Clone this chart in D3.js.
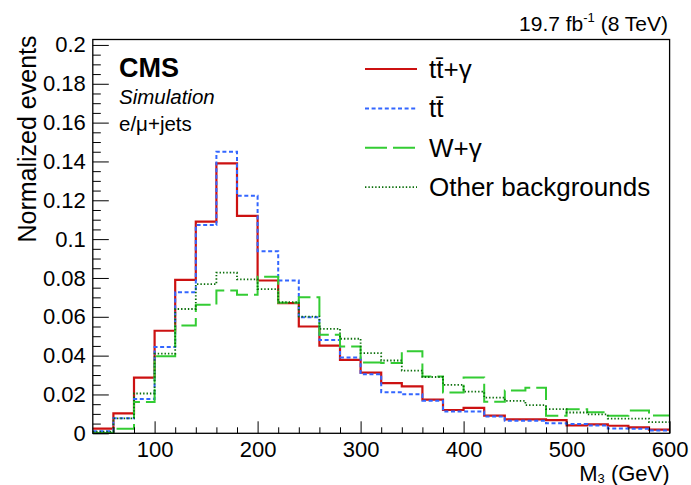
<!DOCTYPE html>
<html>
<head>
<meta charset="utf-8">
<script src="https://cdn.jsdelivr.net/npm/d3@7"></script>
<style>
  html, body { margin: 0; padding: 0; background: #fff; }
  svg { display: block; font-family: "Liberation Sans", Arial, Helvetica, sans-serif; }
</style>
</head>
<body>
<svg id="chart" width="691" height="485"></svg>
<script>
// ---- data ----
const binLow = [40, 60, 80, 100, 120, 140, 160, 180, 200, 220, 240, 260, 280, 300,
                320, 340, 360, 380, 400, 420, 440, 460, 480, 500, 520, 540, 560, 580];
const binWidth = 20;
const ttgamma = [0.0024, 0.0103, 0.0287, 0.0528, 0.079, 0.109, 0.139, 0.112, 0.0787, 0.067,
                 0.055, 0.0452, 0.0378, 0.0312, 0.0258, 0.0242, 0.0173, 0.012, 0.0131, 0.0091,
                 0.0072, 0.0072, 0.0068, 0.0041, 0.0046, 0.0039, 0.0031, 0.0019];
const ttbar = [0.001, 0.0077, 0.0176, 0.0445, 0.0727, 0.1073, 0.145, 0.1223, 0.0938, 0.0787,
               0.0597, 0.0481, 0.039, 0.0304, 0.0212, 0.0201, 0.0167, 0.0112, 0.0112, 0.0086,
               0.0065, 0.0065, 0.0052, 0.0048, 0.004, 0.0025, 0.0023, 0.0014];
const wgamma = [0.0002, 0.0024, 0.0161, 0.0397, 0.0555, 0.0662, 0.0736, 0.0714, 0.0806, 0.0672,
                0.0701, 0.0507, 0.0447, 0.0364, 0.0362, 0.0423, 0.0292, 0.021, 0.0287, 0.0162,
                0.022, 0.0234, 0.009, 0.0124, 0.0108, 0.009, 0.0117, 0.0092];
const otherBkg = [0.0009, 0.0077, 0.0205, 0.041, 0.064, 0.0768, 0.0827, 0.0793, 0.0742, 0.0675,
                  0.0601, 0.0538, 0.0487, 0.0413, 0.0375, 0.0323, 0.029, 0.0249, 0.0215, 0.0184,
                  0.0167, 0.0145, 0.0125, 0.0107, 0.0097, 0.0076, 0.0076, 0.0058];
const seriesNames = ["tt\u0304+\u03b3", "tt\u0304", "W+\u03b3", "Other backgrounds"];
const xMajorTicks = [100, 200, 300, 400, 500, 600];
const xMinorTicks = [60, 80, 120, 140, 160, 180, 220, 240, 260, 280, 320, 340, 360, 380,
                     420, 440, 460, 480, 520, 540, 560, 580];
const yMajorTicks = [0, 0.02, 0.04, 0.06, 0.08, 0.1, 0.12, 0.14, 0.16, 0.18, 0.2];
const yTickLabels = ["0", "0.02", "0.04", "0.06", "0.08", "0.1", "0.12", "0.14", "0.16", "0.18", "0.2"];
const yMinorTicks = [0.005, 0.01, 0.015, 0.025, 0.03, 0.035, 0.045, 0.05, 0.055, 0.065, 0.07, 0.075,
                     0.085, 0.09, 0.095, 0.105, 0.11, 0.115, 0.125, 0.13, 0.135, 0.145, 0.15, 0.155,
                     0.165, 0.17, 0.175, 0.185, 0.19, 0.195];

// ---- layout ----
const L = 92.8, R = 669.6, T = 39.5, B = 433.3;
const svg = d3.select("#chart");
const x = d3.scaleLinear().domain([40, 600]).range([L, R]);
const y = d3.scaleLinear().domain([0, 0.2028]).range([B, T]);

const styles = [
  { data: ttgamma, color: "#cc1111", width: 2.2, dash: null },
  { data: ttbar, color: "#3366ff", width: 2, dash: "4,2.6" },
  { data: wgamma, color: "#33cc33", width: 2, dash: "22,6" },
  { data: otherBkg, color: "#0a6e0a", width: 1.8, dash: "1.4,2" }
];

// histograms
const line = d3.line().x(d => x(d[0])).y(d => y(d[1]));
styles.forEach(s => {
  const pts = [];
  s.data.forEach((v, i) => { pts.push([binLow[i], v]); pts.push([binLow[i] + binWidth, v]); });
  svg.append("path").attr("d", line(pts)).attr("fill", "none")
    .attr("stroke", s.color).attr("stroke-width", s.width)
    .attr("stroke-dasharray", s.dash);
});

// axes
const fontTick = 22;
const gx = svg.append("g").attr("transform", `translate(0,${B})`)
  .call(d3.axisBottom(x).tickValues(xMajorTicks).tickSize(-12).tickPadding(8).tickFormat(d3.format("d")));
const gxm = svg.append("g").attr("transform", `translate(0,${B})`)
  .call(d3.axisBottom(x).tickValues(xMinorTicks).tickSize(-6).tickFormat(""));
const gy = svg.append("g").attr("transform", `translate(${L},0)`)
  .call(d3.axisLeft(y).tickValues(yMajorTicks).tickSize(-16).tickPadding(7)
    .tickFormat((d, i) => yTickLabels[i]));
const gym = svg.append("g").attr("transform", `translate(${L},0)`)
  .call(d3.axisLeft(y).tickValues(yMinorTicks).tickSize(-8).tickFormat(""));
[gx, gxm, gy, gym].forEach(g => {
  g.select(".domain").remove();
  g.selectAll("line").attr("stroke", "#000").attr("stroke-width", 1);
  g.selectAll("text").attr("font-size", fontTick).attr("font-family", "Liberation Sans, Arial, sans-serif").attr("fill", "#000");
});

// frame
svg.append("rect").attr("x", L).attr("y", T).attr("width", R - L).attr("height", B - T)
  .attr("fill", "none").attr("stroke", "#000").attr("stroke-width", 1.3);

// axis titles
const xt = svg.append("text").attr("x", R).attr("y", 481).attr("text-anchor", "end")
  .attr("font-size", 22);
xt.append("tspan").text("M");
xt.append("tspan").attr("font-size", 13).attr("dy", 2).text("3");
xt.append("tspan").attr("dy", -2).text(" (GeV)");

svg.append("text").attr("transform", `translate(36,${T - 4}) rotate(-90)`)
  .attr("text-anchor", "end").attr("font-size", 25).text("Normalized events");

// lumi
const lumi = svg.append("text").attr("x", 668).attr("y", 31).attr("text-anchor", "end").attr("font-size", 21);
lumi.append("tspan").text("19.7 fb");
lumi.append("tspan").attr("font-size", 13).attr("dy", -9).text("-1");
lumi.append("tspan").attr("dy", 9).text(" (8 TeV)");

// CMS labels
svg.append("text").attr("x", 119).attr("y", 77).attr("font-size", 27).attr("font-weight", "bold").text("CMS");
svg.append("text").attr("x", 119).attr("y", 104).attr("font-size", 20.5).attr("font-style", "italic").text("Simulation");
svg.append("text").attr("x", 119).attr("y", 131).attr("font-size", 20.5).text("e/\u03bc+jets");

// legend
const legY = [69, 108.4, 147.8, 187.2];
styles.forEach((s, i) => {
  svg.append("line").attr("x1", 365).attr("x2", 417).attr("y1", legY[i]).attr("y2", legY[i])
    .attr("stroke", s.color).attr("stroke-width", s.width).attr("stroke-dasharray", s.dash);
  svg.append("text").attr("x", 429).attr("y", legY[i] + 9).attr("font-size", 26).text(seriesNames[i]);
});
</script>
</body>
</html>
